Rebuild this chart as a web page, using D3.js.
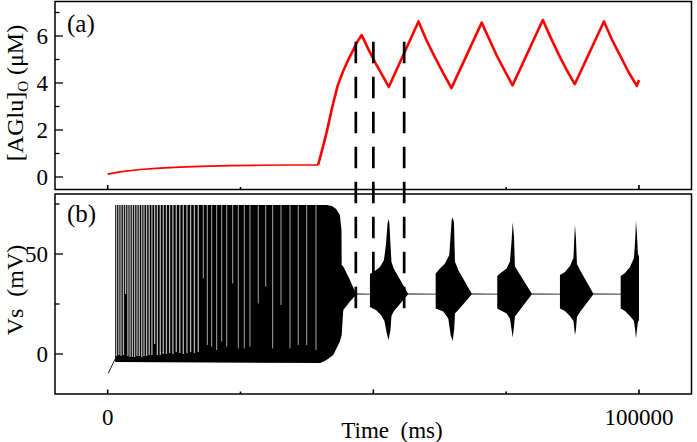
<!DOCTYPE html>
<html><head><meta charset="utf-8">
<script src="https://cdn.jsdelivr.net/npm/d3@7"></script>
<style>
body{margin:0;background:#fff;}
text{font-family:"Liberation Serif","Times New Roman",serif;fill:#000;}
</style>
</head><body>
<svg id="c" width="697" height="442"></svg>
<script>
// ---------- DATA ----------
const xTickValues = [0, 25000, 50000, 75000, 100000];
const xMajorTicks = [0, 50000, 100000];
const xTickLabels = [{t: 0, s: "0"}, {t: 100000, s: "100000"}];
const yTicksA = [0, 2, 4, 6];
const yMinorA = [1, 3, 5, 7];
const yTicksB = [0, 50];
const yMinorB = [25, 75];

// [AGlu]o (uM) vs time (ms)
const aGluT = [0, 2300, 6100, 9800, 13600, 17400, 23000, 28700, 34300, 39600,
  40300, 41200, 42500, 43300, 44300, 45200, 46200, 47100, 47800,
  49100, 50400, 51700, 52900,
  58500, 60000, 61600, 63200, 64700,
  70400, 71900, 73300, 74800, 76200,
  81900, 83400, 84900, 86400, 87900,
  93400, 94900, 96500, 98000, 99600, 100000];
const aGluV = [0.12, 0.22, 0.32, 0.38, 0.42, 0.45, 0.48, 0.5, 0.51, 0.51,
  1.1, 1.9, 3.2, 3.9, 4.5, 4.95, 5.4, 5.8, 6.04,
  5.42, 4.85, 4.32, 3.83,
  6.62, 5.82, 5.09, 4.4, 3.78,
  6.57, 5.82, 5.13, 4.49, 3.9,
  6.68, 5.92, 5.21, 4.55, 3.95,
  6.62, 5.85, 5.14, 4.48, 3.88, 4.13];

// Vs (mV): initial transient before spiking
const vsStart = [[100, -9.7], [1400, -2.5]];
// Vs envelope (upper) [ms, mV]
const vsUpper = [
  [1400, 74.5], [41200, 74.5], [42200, 74], [43000, 72.5], [43700, 69.5], [44000, 62], [44040, 44.5],
  [44340, 43.7], [45600, 37], [46540, 31.2], [46900, 30.2],
  [49360, 30.1], [49360, 40], [50300, 41.5], [51250, 43.5], [52000, 47], [52380, 55], [52660, 65],
  [52850, 67.5], [53030, 65], [53220, 55], [53410, 46], [53880, 42.5], [56520, 30.2],
  [61730, 30.1], [61730, 40.3], [62540, 42.8], [63480, 45.3], [64290, 49.5], [64550, 59.5], [64740, 67],
  [64930, 68.2], [65170, 66], [65360, 46.2], [65980, 42], [68500, 30.2],
  [73320, 30.1], [73320, 39], [73830, 40.3], [75090, 42.8], [75710, 46.2], [76030, 57], [76220, 65.7],
  [76470, 58.7], [76650, 43.7], [79800, 30.2],
  [85120, 30.1], [85120, 39.5], [86060, 41], [87000, 44], [87660, 48], [87810, 57], [87950, 64.5],
  [88130, 58], [88320, 45], [88890, 42], [91390, 30.2],
  [96550, 30.1], [96550, 39], [97360, 40.5], [98300, 43.5], [99050, 48], [99280, 57], [99430, 66.7],
  [99610, 60], [99800, 50], [100000, 48.7]
];
// Vs envelope (lower) [ms, mV]
const vsLower = [
  [1400, -4], [40000, -4.5], [41200, -3], [42460, -0.5], [43100, 3], [43700, 6.2], [44040, 9.5],
  [44340, 22], [45600, 26.2], [46540, 29], [46900, 29.8],
  [49360, 29.7], [49360, 23.5], [50490, 22], [51430, 19.5], [52090, 16.5], [52470, 11], [52850, 7],
  [53220, 12], [53410, 19], [53880, 21.5], [56520, 29.8],
  [61730, 29.7], [61730, 22.8], [63160, 21.2], [64100, 17.8], [64550, 9.5], [64930, 6.5], [65230, 12.8],
  [65360, 20.3], [65980, 22], [68500, 29.8],
  [73320, 29.7], [73320, 22.8], [73830, 22], [75090, 20.3], [75710, 17.8], [76030, 12], [76220, 8.2],
  [76470, 13.7], [76650, 18.7], [79800, 29.8],
  [85120, 29.7], [85120, 22.8], [86060, 21.5], [87000, 19], [87660, 16.5], [87810, 13], [87950, 9.5],
  [88130, 12], [88320, 18.5], [88890, 21], [91390, 29.8],
  [96550, 29.7], [96550, 22.8], [97360, 21.5], [98300, 19], [99050, 16.5], [99280, 12], [99430, 7.8],
  [99610, 12], [99800, 16], [100000, 17]
];
// inter-spike gaps in the tonic firing phase: time (ms) and lowest voltage reached (mV)
const gapT = [1660, 2090, 2500, 2960, 3370, 3800, 4220, 4650, 5060, 5510, 5950, 6400, 6830, 7320, 7810,
  8320, 8830, 9350, 9900, 10460, 11050, 11650, 12270, 12910, 13570, 14230, 14910, 15600, 16320, 17050,
  17990, 18750, 19570, 20510, 21460, 22400, 23530, 24580, 25710, 26780, 28340, 29740, 31050, 32620,
  34310, 35870, 37450, 39200];
const gapV = [-1, -0.5, -1, -0.5, 30, -1, -1.5, -1.5, -1.5, -1, -1, -1.5, -1, -1, -0.5,
  -0.5, 5, -0.5, -0.5, 0, 0, 0.5, 0, 1, 0.5, 0, 0.5, 1, 0.5, 1,
  37.8, 4.5, 3.7, 2, 6.2, 3.7, 35.3, 2.8, 2.8, 3.7, 25.3, 33.7, 2.8, 24.5,
  2.8, 4.5, 4.5, 2];
// dashed markers
const markT = [46700, 50000, 55800];
const markTopA = 5.76;   // in [AGlu] units
const markBottomB = 22.85; // in mV

// ---------- LAYOUT ----------
const svg = d3.select("#c");
const L = 55, R = 691.5;
const A = {top: 1.5, bottom: 189.5};
const B = {top: 194, bottom: 394};

const x = d3.scaleLinear().domain([0, 100000]).range([107.7, 639]);
const yA = d3.scaleLinear().domain([0, 6]).range([177, 36]);
const yB = d3.scaleLinear().domain([0, 50]).range([354, 254]);

// red curve: thinner while flat, thicker once oscillating
const idx = aGluT.map((d, i) => i);
const redLine = d3.line().x(i => x(aGluT[i])).y(i => yA(aGluV[i]));
svg.append("path").attr("d", redLine(idx.slice(0, 10))).attr("fill", "none")
  .attr("stroke", "#ff0000").attr("stroke-width", 1.7).attr("stroke-linejoin", "round");
svg.append("path").attr("d", redLine(idx.slice(9))).attr("fill", "none")
  .attr("stroke", "#ff0000").attr("stroke-width", 2.6).attr("stroke-linejoin", "round");

// Vs trace
const ptLine = d3.line().x(d => x(d[0])).y(d => yB(d[1]));
svg.append("path").attr("d", ptLine(vsStart)).attr("fill", "none").attr("stroke", "#000").attr("stroke-width", 0.9);
const poly = vsUpper.concat(vsLower.slice().reverse());
svg.append("path").attr("d", ptLine(poly) + "Z").attr("fill", "#000").attr("stroke", "none");

// gaps
svg.append("g").selectAll("line").data(gapT).join("line")
  .attr("x1", d => x(d)).attr("x2", d => x(d))
  .attr("y1", yB(74.5)).attr("y2", (d, i) => yB(gapV[i]))
  .attr("stroke", "#fff").attr("stroke-width", (d, i) => i < 30 ? 1.3 : 1.0)
  .attr("stroke-opacity", (d, i) => i < 30 ? 0.7 : 0.65);

// frames
[A, B].forEach(p => {
  svg.append("rect").attr("x", L).attr("y", p.top).attr("width", R - L).attr("height", p.bottom - p.top)
    .attr("fill", "none").attr("stroke", "#000").attr("stroke-width", 1.5);
  svg.append("g").selectAll("line").data(xTickValues).join("line")
    .attr("x1", d => x(d)).attr("x2", d => x(d))
    .attr("y1", p.bottom).attr("y2", d => p.bottom - (xMajorTicks.includes(d) ? 4.5 : 2.5))
    .attr("stroke", "#000").attr("stroke-width", 1.6);
});

function yTicks(scale, major, minor) {
  svg.append("g").selectAll("line").data(major).join("line")
    .attr("x1", L).attr("x2", L + 8).attr("y1", d => scale(d)).attr("y2", d => scale(d))
    .attr("stroke", "#000").attr("stroke-width", 1.3);
  svg.append("g").selectAll("line").data(minor).join("line")
    .attr("x1", L).attr("x2", L + 4.5).attr("y1", d => scale(d)).attr("y2", d => scale(d))
    .attr("stroke", "#000").attr("stroke-width", 1.3);
  svg.append("g").selectAll("text").data(major).join("text")
    .attr("x", L - 7).attr("y", d => scale(d)).attr("dy", "0.35em").attr("text-anchor", "end")
    .attr("font-size", 23).text(d => d);
}
yTicks(yA, yTicksA, yMinorA);
yTicks(yB, yTicksB, yMinorB);

// x tick labels
svg.append("g").selectAll("text").data(xTickLabels).join("text")
  .attr("x", d => x(d.t)).attr("y", 425).attr("text-anchor", "middle")
  .attr("font-size", 23).text(d => d.s);

// dashed markers
svg.append("g").selectAll("line").data(markT).join("line")
  .attr("x1", d => x(d)).attr("x2", d => x(d))
  .attr("y1", yA(markTopA)).attr("y2", yB(markBottomB))
  .attr("stroke", "#000").attr("stroke-width", 2.7).attr("stroke-dasharray", "21.7 13.3");

// panel letters
svg.append("text").attr("x", 67).attr("y", 32).attr("font-size", 25).text("(a)");
svg.append("text").attr("x", 67).attr("y", 222).attr("font-size", 25).text("(b)");

// axis titles
const t1 = svg.append("text").attr("transform", "translate(23,93) rotate(-90)")
  .attr("text-anchor", "middle").attr("font-size", 24);
t1.append("tspan").text("[AGlu]");
t1.append("tspan").attr("font-size", 15).attr("dy", 5).text("O");
t1.append("tspan").attr("dy", -5).text(" (\u03BCM)");

svg.append("text").attr("transform", "translate(23,290) rotate(-90)")
  .attr("text-anchor", "middle").attr("font-size", 24).text("Vs\u00A0 (mV)");

svg.append("text").attr("x", 392).attr("y", 438).attr("text-anchor", "middle")
  .attr("font-size", 23).text("Time\u00A0 (ms)");
</script>
</body></html>
